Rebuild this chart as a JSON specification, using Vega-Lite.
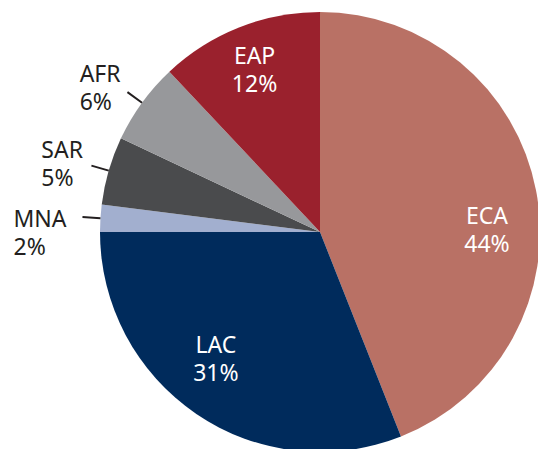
{
  "$schema": "https://vega.github.io/schema/vega-lite/v6.json",
  "width": 436,
  "height": 434,
  "autosize": {"type": "none"},
  "padding": {"left": 102, "top": 15, "right": 0, "bottom": 0},
  "background": "white",
  "config": {"view": {"stroke": null}, "text": {"font": "Noto Sans", "fontSize": 23, "baseline": "middle"}},
  "data": {
    "values": [
      {"cat": "ECA", "value": 44, "pct": "44%", "rank": 1},
      {"cat": "LAC", "value": 31, "pct": "31%", "rank": 2},
      {"cat": "MNA", "value": 2, "pct": "2%", "rank": 3},
      {"cat": "SAR", "value": 5, "pct": "5%", "rank": 4},
      {"cat": "AFR", "value": 6, "pct": "6%", "rank": 5},
      {"cat": "EAP", "value": 12, "pct": "12%", "rank": 6}
    ]
  },
  "encoding": {
    "theta": {"field": "value", "type": "quantitative", "stack": true},
    "order": {"field": "rank", "type": "quantitative"},
    "detail": {"field": "cat", "type": "nominal"}
  },
  "layer": [
    {
      "mark": {"type": "arc", "radius": 220},
      "encoding": {
        "color": {
          "field": "cat",
          "type": "nominal",
          "legend": null,
          "scale": {
            "domain": ["ECA", "LAC", "MNA", "SAR", "AFR", "EAP"],
            "range": ["#B97165", "#002B5C", "#A2AFCF", "#4A4B4D", "#97989B", "#9A212D"]
          }
        }
      }
    },
    {
      "mark": {"type": "arc", "radius": 238, "radius2": 220, "padAngle": 3, "fillOpacity": 0, "strokeWidth": 2},
      "encoding": {
        "stroke": {
          "condition": {"test": "indexof(['MNA','SAR','AFR'], datum.cat) >= 0", "value": "#231F20"},
          "value": "transparent"
        }
      }
    },
    {
      "mark": {
        "type": "text",
        "radius": {"expr": "datum.cat==='ECA'?170:datum.cat==='LAC'?155:datum.cat==='EAP'?175:260"},
        "dx": {"expr": "datum.cat==='LAC'?-17:datum.cat==='EAP'?-1:datum.cat==='AFR'?-30:datum.cat==='SAR'?-29:datum.cat==='MNA'?-47:0"},
        "dy": {"expr": "datum.cat==='ECA'?17:datum.cat==='LAC'?-14:datum.cat==='EAP'?-12:datum.cat==='AFR'?-4:datum.cat==='SAR'?-8:4"},
        "align": {"expr": "indexof(['AFR','SAR','MNA'], datum.cat) >= 0 ? 'left' : 'center'"},
        "fill": {"expr": "indexof(['AFR','SAR','MNA'], datum.cat) >= 0 ? '#231F20' : 'white'"}
      },
      "encoding": {"text": {"field": "cat"}}
    },
    {
      "mark": {
        "type": "text",
        "radius": {"expr": "datum.cat==='ECA'?170:datum.cat==='LAC'?155:datum.cat==='EAP'?175:260"},
        "dx": {"expr": "datum.cat==='LAC'?-17:datum.cat==='EAP'?-1:datum.cat==='AFR'?-30:datum.cat==='SAR'?-29:datum.cat==='MNA'?-47:0"},
        "dy": {"expr": "datum.cat==='ECA'?45:datum.cat==='LAC'?14:datum.cat==='EAP'?16:datum.cat==='AFR'?24:datum.cat==='SAR'?20:32"},
        "align": {"expr": "indexof(['AFR','SAR','MNA'], datum.cat) >= 0 ? 'left' : 'center'"},
        "fill": {"expr": "indexof(['AFR','SAR','MNA'], datum.cat) >= 0 ? '#231F20' : 'white'"}
      },
      "encoding": {"text": {"field": "pct"}}
    }
  ]
}
